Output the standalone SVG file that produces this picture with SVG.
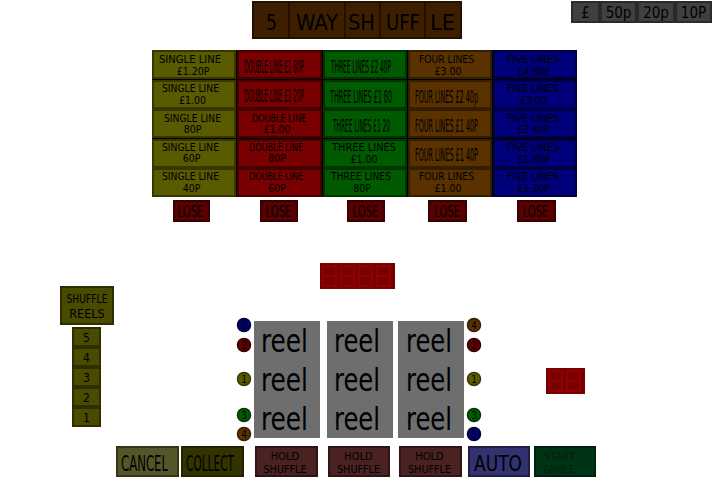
<svg xmlns="http://www.w3.org/2000/svg" width="720" height="496" viewBox="0 0 720 496">
<style>
text{font-family:"DejaVu Sans Condensed","DejaVu Sans","Liberation Sans",sans-serif;fill:#000;text-anchor:middle}
.t{fill:#3d1f00;stroke:#221100;stroke-width:2}
.g{fill:#404040;stroke:#2a2a2a;stroke-width:2}
.y{fill:#5a5a00;stroke:#373700;stroke-width:2}
.r{fill:#780000;stroke:#460000;stroke-width:2}
.gr{fill:#005a00;stroke:#003500;stroke-width:2}
.b{fill:#5a3200;stroke:#351d00;stroke-width:2}
.bl{fill:#00007a;stroke:#000045;stroke-width:2}
.lose{fill:#5a0000;stroke:#380000;stroke-width:2}
.s{font-size:10.5px}
.big{font-size:18px}
.disp{fill:#780000}
.seg{fill:none;stroke:#900000;stroke-width:2.2}
.reel{fill:#6e6e6e}
.rt{font-size:32px;text-anchor:start}
.cn{font-size:10px}
.sy{fill:#4a4a00;stroke:#2e2e00;stroke-width:2}
</style>
<defs>
<path id="d8" d="M0,0h13v20h-13z M0,10h13"/>
</defs>
<rect x="152" y="50" width="425" height="147" fill="#000"/>

<g id="title">
<rect class="t" x="253" y="2" width="36" height="36"/>
<rect class="t" x="289" y="2" width="56" height="36"/>
<rect class="t" x="345" y="2" width="35" height="36"/>
<rect class="t" x="380" y="2" width="45" height="36"/>
<rect class="t" x="425" y="2" width="36" height="36"/>
<text x="271.5" y="30" font-size="22" textLength="11" lengthAdjust="spacingAndGlyphs">5</text>
<text x="317" y="30" font-size="22" textLength="42" lengthAdjust="spacingAndGlyphs">WAY</text>
<text x="361.5" y="30" font-size="22" textLength="27" lengthAdjust="spacingAndGlyphs">SH</text>
<text x="403" y="30" font-size="22" textLength="34" lengthAdjust="spacingAndGlyphs">UFF</text>
<text x="442.5" y="30" font-size="22" textLength="25" lengthAdjust="spacingAndGlyphs">LE</text>
</g>

<g id="coins">
<rect class="g" x="572" y="2" width="27" height="20"/>
<rect class="g" x="601" y="2" width="35" height="20"/>
<rect class="g" x="638" y="2" width="36" height="20"/>
<rect class="g" x="676" y="2" width="35" height="20"/>
<text x="585.5" y="18" font-size="15">£</text>
<text x="618.5" y="18" font-size="15">50p</text>
<text x="656" y="18" font-size="15">20p</text>
<text x="693.5" y="18" font-size="15">10P</text>
</g>

<g id="col-single">
<rect class="y" x="153" y="51" width="82" height="27"/>
<rect class="y" x="153" y="81" width="82" height="27"/>
<rect class="y" x="153" y="110" width="82" height="27"/>
<rect class="y" x="153" y="140" width="82" height="27"/>
<rect class="y" x="153" y="169" width="82" height="27"/>
<text class="s" x="190" y="63" textLength="62" lengthAdjust="spacingAndGlyphs">SINGLE  LINE</text>
<text class="s" x="193" y="74.5">£1.20P</text>
<text class="s" x="190.5" y="92" textLength="57" lengthAdjust="spacingAndGlyphs">SINGLE LINE</text>
<text class="s" x="192.5" y="104">£1.00</text>
<text class="s" x="192.5" y="122" textLength="57" lengthAdjust="spacingAndGlyphs">SINGLE LINE</text>
<text class="s" x="192.5" y="133">80P</text>
<text class="s" x="190.5" y="151" textLength="57" lengthAdjust="spacingAndGlyphs">SINGLE LINE</text>
<text class="s" x="191.5" y="162">60P</text>
<text class="s" x="190.5" y="180" textLength="57" lengthAdjust="spacingAndGlyphs">SINGLE LINE</text>
<text class="s" x="191.5" y="191.5">40P</text>
</g>

<g id="col-double">
<rect class="r" x="238" y="51" width="83" height="27"/>
<rect class="r" x="238" y="81" width="83" height="27"/>
<rect class="r" x="238" y="110" width="83" height="27"/>
<rect class="r" x="238" y="140" width="83" height="27"/>
<rect class="r" x="238" y="169" width="83" height="27"/>
<text class="big" x="274" y="73" textLength="60" lengthAdjust="spacingAndGlyphs">DOUBLE  LINE £1 80P</text>
<text class="big" x="274" y="102" textLength="60" lengthAdjust="spacingAndGlyphs">DOUBLE  LINE £1 20P</text>
<text class="s" x="279" y="122" textLength="54" lengthAdjust="spacingAndGlyphs">DOUBLE LINE</text>
<text class="s" x="277" y="133">£1.00</text>
<text class="s" x="276" y="151" textLength="54" lengthAdjust="spacingAndGlyphs">DOUBLE LINE</text>
<text class="s" x="277" y="162">80P</text>
<text class="s" x="276" y="180" textLength="54" lengthAdjust="spacingAndGlyphs">DOUBLE LINE</text>
<text class="s" x="277" y="191.5">60P</text>
</g>

<g id="col-three">
<rect class="gr" x="324" y="51" width="82" height="27"/>
<rect class="gr" x="324" y="81" width="82" height="27"/>
<rect class="gr" x="324" y="110" width="82" height="27"/>
<rect class="gr" x="324" y="140" width="82" height="27"/>
<rect class="gr" x="324" y="169" width="82" height="27"/>
<text class="big" x="361" y="73" textLength="60" lengthAdjust="spacingAndGlyphs">THREE  LINES £2 40P</text>
<text class="big" x="361" y="103" textLength="62" lengthAdjust="spacingAndGlyphs">THREE LINES £1  80</text>
<text class="big" x="361.5" y="132" textLength="57" lengthAdjust="spacingAndGlyphs">THREE LINES  £1 20</text>
<text class="s" x="364" y="151" textLength="64" lengthAdjust="spacingAndGlyphs">THREE  LINES</text>
<text class="s" x="364" y="162.5">£1.00</text>
<text class="s" x="361" y="180" textLength="60" lengthAdjust="spacingAndGlyphs">THREE LINES</text>
<text class="s" x="362" y="191.5">80P</text>
</g>

<g id="col-four">
<rect class="b" x="409" y="51" width="82" height="27"/>
<rect class="b" x="409" y="81" width="82" height="27"/>
<rect class="b" x="409" y="110" width="82" height="27"/>
<rect class="b" x="409" y="140" width="82" height="27"/>
<rect class="b" x="409" y="169" width="82" height="27"/>
<text class="s" x="446.5" y="63" textLength="55" lengthAdjust="spacingAndGlyphs">FOUR LINES</text>
<text class="s" x="448" y="74.5">£3.00</text>
<text class="big" x="446.5" y="103" textLength="63" lengthAdjust="spacingAndGlyphs">FOUR LINES £2 40p</text>
<text class="big" x="446.5" y="132" textLength="63" lengthAdjust="spacingAndGlyphs">FOUR LINES £1 40P</text>
<text class="big" x="446.5" y="161" textLength="63" lengthAdjust="spacingAndGlyphs">FOUR LINES £1 40P</text>
<text class="s" x="446.5" y="180" textLength="55" lengthAdjust="spacingAndGlyphs">FOUR LINES</text>
<text class="s" x="448" y="191.5">£1.00</text>
</g>

<g id="col-five">
<rect class="bl" x="494" y="51" width="82" height="27"/>
<rect class="bl" x="494" y="81" width="82" height="27"/>
<rect class="bl" x="494" y="110" width="82" height="27"/>
<rect class="bl" x="494" y="140" width="82" height="27"/>
<rect class="bl" x="494" y="169" width="82" height="27"/>
<text class="s" x="533" y="63" textLength="52" lengthAdjust="spacingAndGlyphs">FIVE LINES</text>
<text class="s" x="533.5" y="74.5">£4.80P</text>
<text class="s" x="533" y="92" textLength="52" lengthAdjust="spacingAndGlyphs">FIVE LINES</text>
<text class="s" x="533.5" y="104">£3.00</text>
<text class="s" x="533" y="122" textLength="52" lengthAdjust="spacingAndGlyphs">FIVE LINES</text>
<text class="s" x="533.5" y="133">£2.40P</text>
<text class="s" x="533" y="151" textLength="52" lengthAdjust="spacingAndGlyphs">FIVE LINES</text>
<text class="s" x="533.5" y="162.5">£1.80P</text>
<text class="s" x="533" y="180" textLength="52" lengthAdjust="spacingAndGlyphs">FIVE LINES</text>
<text class="s" x="533.5" y="191.5">£1.20P</text>
</g>

<g id="lose">
<rect class="lose" x="174" y="201" width="35" height="20"/>
<rect class="lose" x="261" y="201" width="36" height="20"/>
<rect class="lose" x="348" y="201" width="36" height="20"/>
<rect class="lose" x="429" y="201" width="37" height="20"/>
<rect class="lose" x="518" y="201" width="37" height="20"/>
<text x="190.5" y="217" font-size="15" textLength="26" lengthAdjust="spacingAndGlyphs">LOSE</text>
<text x="278.5" y="217" font-size="15" textLength="26" lengthAdjust="spacingAndGlyphs">LOSE</text>
<text x="365.5" y="217" font-size="15" textLength="26" lengthAdjust="spacingAndGlyphs">LOSE</text>
<text x="447" y="217" font-size="15" textLength="26" lengthAdjust="spacingAndGlyphs">LOSE</text>
<text x="535.5" y="217" font-size="15" textLength="26" lengthAdjust="spacingAndGlyphs">LOSE</text>
</g>

<g id="credit-display">
<rect class="disp" x="320" y="263" width="75" height="26"/>
<use href="#d8" class="seg" x="323" y="266"/>
<use href="#d8" class="seg" x="341" y="266"/>
<use href="#d8" class="seg" x="359" y="266"/>
<use href="#d8" class="seg" x="377" y="266"/>
</g>

<g id="shuffle-reels">
<rect class="sy" x="61" y="287" width="52" height="37"/>
<text x="87" y="303" font-size="12.5" textLength="41" lengthAdjust="spacingAndGlyphs">SHUFFLE</text>
<text x="87" y="318" font-size="12.5">REELS</text>
<rect class="sy" x="73" y="328" width="27" height="18"/>
<rect class="sy" x="73" y="348" width="27" height="18"/>
<rect class="sy" x="73" y="368" width="27" height="18"/>
<rect class="sy" x="73" y="388" width="27" height="18"/>
<rect class="sy" x="73" y="408" width="27" height="18"/>
<text x="86.5" y="342" font-size="12">5</text>
<text x="86.5" y="362" font-size="12">4</text>
<text x="86.5" y="382" font-size="12">3</text>
<text x="86.5" y="402" font-size="12">2</text>
<text x="86.5" y="422" font-size="12">1</text>
</g>

<g id="reels">
<rect class="reel" x="254" y="321" width="66" height="117"/>
<rect class="reel" x="327" y="321" width="66" height="117"/>
<rect class="reel" x="398" y="321" width="66" height="117"/>
<text class="rt" x="261" y="352" textLength="47" lengthAdjust="spacingAndGlyphs">reel</text>
<text class="rt" x="261" y="391" textLength="47" lengthAdjust="spacingAndGlyphs">reel</text>
<text class="rt" x="261" y="430" textLength="47" lengthAdjust="spacingAndGlyphs">reel</text>
<text class="rt" x="334" y="352" textLength="46" lengthAdjust="spacingAndGlyphs">reel</text>
<text class="rt" x="334" y="391" textLength="46" lengthAdjust="spacingAndGlyphs">reel</text>
<text class="rt" x="334" y="430" textLength="46" lengthAdjust="spacingAndGlyphs">reel</text>
<text class="rt" x="406" y="352" textLength="46" lengthAdjust="spacingAndGlyphs">reel</text>
<text class="rt" x="406" y="391" textLength="46" lengthAdjust="spacingAndGlyphs">reel</text>
<text class="rt" x="406" y="430" textLength="46" lengthAdjust="spacingAndGlyphs">reel</text>
</g>

<g id="lines-left">
<circle cx="244" cy="325" r="6.5" fill="#00006e" stroke="#00003a" stroke-width="1.5"/>
<circle cx="244" cy="345" r="6.5" fill="#5a0000" stroke="#380000" stroke-width="1.5"/>
<circle cx="244" cy="379" r="6.5" fill="#5a5a00" stroke="#383800" stroke-width="1.5"/>
<circle cx="244" cy="415" r="6.5" fill="#005a00" stroke="#003800" stroke-width="1.5"/>
<circle cx="244" cy="434" r="6.5" fill="#5a3200" stroke="#381e00" stroke-width="1.5"/>
<text class="cn" x="244" y="328.5">5</text>
<text class="cn" x="244" y="348.5">2</text>
<text class="cn" x="244" y="382.5">1</text>
<text class="cn" x="244" y="418.5">3</text>
<text class="cn" x="244" y="437.5">4</text>
</g>

<g id="lines-right">
<circle cx="474" cy="325" r="6.5" fill="#5a3200" stroke="#381e00" stroke-width="1.5"/>
<circle cx="474" cy="345" r="6.5" fill="#5a0000" stroke="#380000" stroke-width="1.5"/>
<circle cx="474" cy="379" r="6.5" fill="#5a5a00" stroke="#383800" stroke-width="1.5"/>
<circle cx="474" cy="415" r="6.5" fill="#005a00" stroke="#003800" stroke-width="1.5"/>
<circle cx="474" cy="434" r="6.5" fill="#00006e" stroke="#00003a" stroke-width="1.5"/>
<text class="cn" x="474" y="328.5">4</text>
<text class="cn" x="474" y="348.5">2</text>
<text class="cn" x="474" y="382.5">1</text>
<text class="cn" x="474" y="418.5">3</text>
<text class="cn" x="474" y="437.5">5</text>
</g>

<g id="win-display">
<rect class="disp" x="546" y="368" width="39" height="26"/>
<use href="#d8" class="seg" x="549" y="371"/>
<use href="#d8" class="seg" x="567" y="371"/>
</g>

<g id="buttons">
<rect x="117" y="447" width="61" height="29" fill="#55552a" stroke="#343418" stroke-width="2"/>
<rect x="182" y="447" width="61" height="29" fill="#333300" stroke="#222200" stroke-width="2"/>
<rect x="256" y="447" width="61" height="29" fill="#4a2222" stroke="#301414" stroke-width="2"/>
<rect x="329" y="447" width="60" height="29" fill="#4a2222" stroke="#301414" stroke-width="2"/>
<rect x="400" y="447" width="61" height="29" fill="#4a2222" stroke="#301414" stroke-width="2"/>
<rect x="469" y="447" width="60" height="29" fill="#32326e" stroke="#1e1e46" stroke-width="2"/>
<rect x="535" y="447" width="60" height="29" fill="#003416" stroke="#00220c" stroke-width="2"/>
<text x="144.5" y="471" font-size="21" textLength="47" lengthAdjust="spacingAndGlyphs">CANCEL</text>
<text x="210" y="471" font-size="21" textLength="48" lengthAdjust="spacingAndGlyphs">COLLECT</text>
<text x="285" y="460" font-size="11">HOLD</text>
<text x="285" y="473" font-size="11" textLength="43" lengthAdjust="spacingAndGlyphs">SHUFFLE</text>
<text x="358.5" y="460" font-size="11">HOLD</text>
<text x="358.5" y="473" font-size="11" textLength="43" lengthAdjust="spacingAndGlyphs">SHUFFLE</text>
<text x="429.5" y="460" font-size="11">HOLD</text>
<text x="429.5" y="473" font-size="11" textLength="43" lengthAdjust="spacingAndGlyphs">SHUFFLE</text>
<text x="498" y="471" font-size="21" textLength="48" lengthAdjust="spacingAndGlyphs">AUTO</text>
<text x="559.5" y="460" font-size="11" style="fill:#001f0a">START</text>
<text x="558.5" y="473" font-size="11" style="fill:#001f0a" textLength="29" lengthAdjust="spacingAndGlyphs">GAMBLE</text>
</g>
</svg>
